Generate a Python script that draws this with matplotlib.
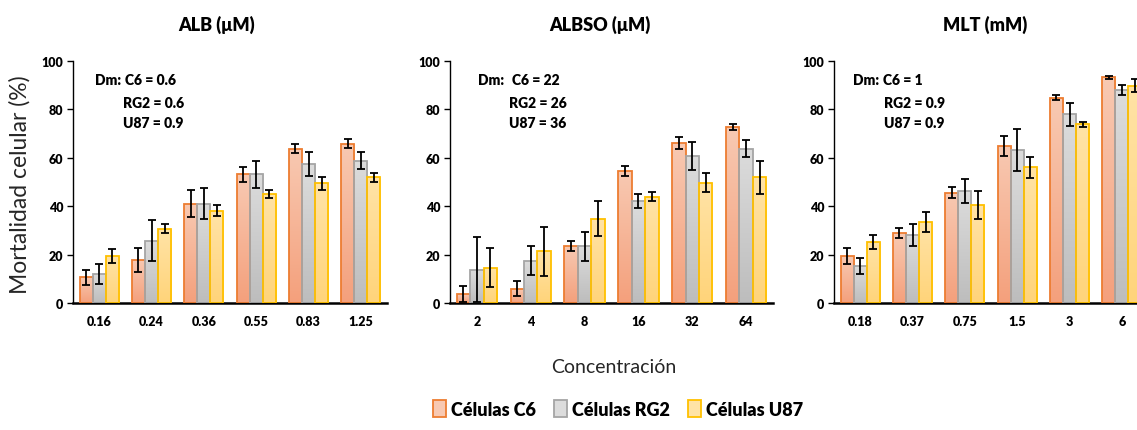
import numpy as np
import matplotlib
matplotlib.use("Agg")
import matplotlib.pyplot as plt
from matplotlib.colors import LinearSegmentedColormap
from matplotlib.patches import Patch

plt.rcParams["font.family"] = ["Lato", "DejaVu Sans"]

# datos
titles = ["ALB (μM)", "ALBSO (μM)", "MLT (mM)"]
conc_alb = ["0.16", "0.24", "0.36", "0.55", "0.83", "1.25"]
conc_albso = ["2", "4", "8", "16", "32", "64"]
conc_mlt = ["0.18", "0.37", "0.75", "1.5", "3", "6"]

alb_c6 = [10.6, 17.9, 41.1, 53.2, 63.8, 65.9]
alb_c6_err = [3.0, 5.0, 5.5, 3.0, 2.0, 2.0]
alb_rg2 = [12.0, 25.7, 41.1, 53.2, 57.4, 58.7]
alb_rg2_err = [4.0, 8.5, 6.5, 5.5, 5.0, 3.5]
alb_u87 = [19.5, 30.7, 38.2, 45.1, 49.4, 51.9]
alb_u87_err = [2.8, 1.8, 2.2, 1.8, 2.7, 2.0]

albso_c6 = [3.7, 5.9, 23.5, 54.5, 66.2, 72.6]
albso_c6_err = [3.2, 3.0, 2.2, 2.0, 2.6, 1.2]
albso_rg2 = [13.8, 17.5, 23.5, 42.1, 60.8, 63.8]
albso_rg2_err = [13.5, 6.0, 6.0, 2.8, 5.8, 3.5]
albso_u87 = [14.6, 21.3, 34.9, 43.9, 49.7, 52.0]
albso_u87_err = [8.0, 10.0, 7.2, 1.9, 3.9, 6.8]

mlt_c6 = [19.3, 28.8, 45.6, 64.9, 84.9, 93.2]
mlt_c6_err = [3.3, 2.1, 2.2, 4.0, 1.0, 0.8]
mlt_rg2 = [15.3, 28.1, 46.2, 63.2, 78.0, 88.0]
mlt_rg2_err = [3.4, 4.6, 5.0, 8.6, 4.7, 2.2]
mlt_u87 = [25.2, 33.4, 40.5, 56.0, 73.8, 89.8]
mlt_u87_err = [2.7, 4.1, 5.7, 4.4, 1.1, 2.7]

dm_text = [("C6 = 0.6", "RG2 = 0.6", "U87 = 0.9"),
           ("C6 = 22", "RG2 = 26", "U87 = 36"),
           ("C6 = 1", "RG2 = 0.9", "U87 = 0.9")]

series_names = ["Células C6", "Células RG2", "Células U87"]
edge_colors = ["#ED7D31", "#A5A5A5", "#FFC000"]
grad_colors = [("#F4A07C", "#F8C9B2"), ("#BDBDBD", "#DCDCDC"), ("#FFD47A", "#FFE3A6")]

panels = [
    (conc_alb, [alb_c6, alb_rg2, alb_u87], [alb_c6_err, alb_rg2_err, alb_u87_err]),
    (conc_albso, [albso_c6, albso_rg2, albso_u87], [albso_c6_err, albso_rg2_err, albso_u87_err]),
    (conc_mlt, [mlt_c6, mlt_rg2, mlt_u87], [mlt_c6_err, mlt_rg2_err, mlt_u87_err]),
]

W, H = 1137, 431
fig = plt.figure(figsize=(W / 100, H / 100), dpi=100)

# posiciones de los ejes en pixeles (izq, der)
ax_px = [(73, 387), (450, 773), (834, 1148)]
bottom_px, top_px = 304, 62
title_x = [217, 600, 985]
text_x = [(95, 123), (478, 509), (853, 884)]
c6_off = [30, 34, 30]
wt = "heavy"

bw = 0.25
for k, (cats, vals, errs) in enumerate(panels):
    x0, x1 = ax_px[k]
    ax = fig.add_axes([x0 / W, (H - bottom_px) / H, (x1 - x0) / W, (bottom_px - top_px) / H])
    x = np.arange(len(cats))
    for j in range(3):
        pos = x + (j - 1) * bw
        bars = ax.bar(pos, vals[j], bw, facecolor="none", edgecolor=edge_colors[j],
                      linewidth=1.3, zorder=3)
        cmap = LinearSegmentedColormap.from_list("g%d" % j, list(grad_colors[j]))
        grad = np.linspace(0, 1, 100).reshape(-1, 1)
        for b in bars:
            bx, by = b.get_x(), b.get_height()
            im = ax.imshow(grad, cmap=cmap, extent=[bx, bx + bw, 0, by], origin="lower",
                           aspect="auto", zorder=2)
            im.set_clip_path(b)
        ax.errorbar(pos, vals[j], yerr=errs[j], fmt="none", ecolor="black",
                    elinewidth=1.3, capsize=3, capthick=1.3, zorder=4)
    ax.set_xlim(-0.5, len(cats) - 0.5)
    ax.set_ylim(0, 100)
    ax.set_yticks([0, 20, 40, 60, 80, 100])
    ax.set_xticks(x)
    ax.set_xticklabels(cats)
    for s in ["top", "right"]:
        ax.spines[s].set_visible(False)
    ax.spines["left"].set_linewidth(1.0)
    ax.spines["bottom"].set_linewidth(1.8)
    ax.tick_params(axis="x", direction="in", length=3, width=1, pad=9, labelsize=9)
    ax.tick_params(axis="y", direction="out", length=4, width=1, pad=3, labelsize=9)
    for lab in ax.get_xticklabels() + ax.get_yticklabels():
        lab.set_fontweight(wt)

    fig.text(title_x[k] / W, 1 - 25 / H, titles[k], ha="center", va="center",
             fontsize=13, fontweight=wt)
    fig.text(text_x[k][0] / W, 1 - 81 / H, "Dm:", ha="left", va="center",
             fontsize=10, fontweight=wt)
    fig.text((text_x[k][0] + c6_off[k]) / W, 1 - 81 / H, dm_text[k][0],
             ha="left", va="center", fontsize=10, fontweight=wt)
    fig.text(text_x[k][1] / W, 1 - 103 / H, dm_text[k][1], ha="left", va="center",
             fontsize=10, fontweight=wt)
    fig.text(text_x[k][1] / W, 1 - 124 / H, dm_text[k][2], ha="left", va="center",
             fontsize=10, fontweight=wt)

fig.text(20 / W, 1 - 185 / H, "Mortalidad celular (%)", rotation=90, ha="center",
         va="center", fontsize=16.5, color="#262626")
fig.text(614 / W, 1 - 368 / H, "Concentración", ha="center", va="center",
         fontsize=14, color="#262626")

handles = [Patch(facecolor=grad_colors[j][1], edgecolor=edge_colors[j], linewidth=1.3)
           for j in range(3)]
fig.legend(handles, series_names, loc="center", bbox_to_anchor=(618 / W, 1 - 410 / H),
           ncol=3, frameon=False, handlelength=0.7, handleheight=1.0,
           handletextpad=0.3, columnspacing=1.0, prop={"weight": wt, "size": 13})

fig.savefig("out.png", dpi=100)
